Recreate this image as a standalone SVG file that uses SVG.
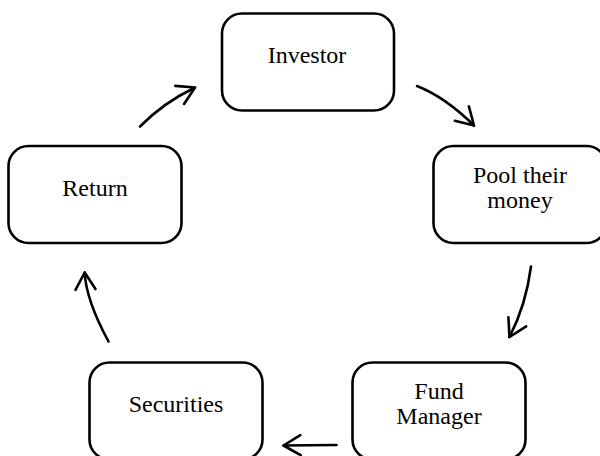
<svg xmlns="http://www.w3.org/2000/svg" width="600" height="456" viewBox="0 0 600 456">
<style>
.box{fill:#fff;stroke:#000;stroke-width:2.6}
.lbl{font-family:"Liberation Serif","Times New Roman",serif;font-size:24px;fill:#000;text-anchor:middle}
.conn{fill:none;stroke:#000;stroke-width:2.6;stroke-linecap:round}
</style>
<defs>
<marker id="arr" markerUnits="userSpaceOnUse" orient="auto" refX="0" refY="0" markerWidth="40" markerHeight="40" overflow="visible">
<path d="M-17,-10 L0,0 L-17,10" fill="none" stroke="#000" stroke-width="2.6" stroke-linecap="round" stroke-linejoin="round"/>
</marker>
</defs>
<rect width="600" height="456" fill="#fff"/>
<g id="investor"><rect class="box" x="222" y="13.5" width="172" height="97" rx="20"/><text class="lbl" x="307" y="63">Investor</text></g>
<g id="pool"><rect class="box" x="433.5" y="146" width="173" height="97" rx="20"/><text class="lbl" x="520" y="183">Pool their</text><text class="lbl" x="520" y="208">money</text></g>
<g id="fund"><rect class="box" x="352.5" y="362.5" width="173" height="97" rx="20"/><text class="lbl" x="439" y="399">Fund</text><text class="lbl" x="439" y="424">Manager</text></g>
<g id="securities"><rect class="box" x="89.5" y="362.5" width="173" height="97" rx="20"/><text class="lbl" x="176" y="412">Securities</text></g>
<g id="return"><rect class="box" x="8.5" y="146" width="173" height="97" rx="20"/><text class="lbl" x="95" y="196">Return</text></g>
<g id="connectors">
<path class="conn" marker-end="url(#arr)" d="M417,86 Q445,97 474,125.5"/>
<path class="conn" marker-end="url(#arr)" d="M531,266.5 Q526,305 509.5,337"/>
<path class="conn" marker-end="url(#arr)" d="M336.5,445 Q310,445 283.5,445.5"/>
<path class="conn" marker-end="url(#arr)" d="M108.5,341.5 Q86,300 84.7,272.5"/>
<path class="conn" marker-end="url(#arr)" d="M140,126.5 Q163,103 195,87.5"/>
</g>
</svg>
